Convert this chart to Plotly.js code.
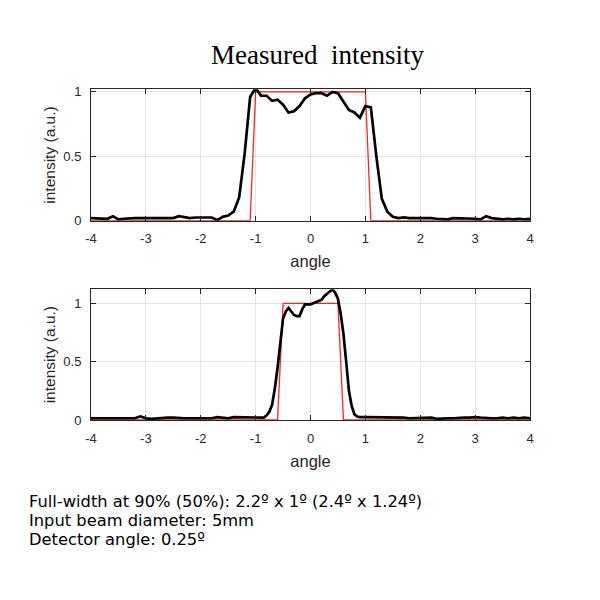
<!DOCTYPE html>
<html>
<head>
<meta charset="utf-8">
<script src="https://cdn.plot.ly/plotly-3.0.1.min.js"></script>
<style>html,body{margin:0;padding:0;background:#fff;}#chart{width:600px;height:600px;}</style>
</head>
<body>
<div id="chart"></div>
<script>
// ---- Data ----
const topAngle = [-4.0,-3.9,-3.8,-3.7,-3.6,-3.5,-3.4,-3.3,-3.2,-3.1,-3.0,-2.9,-2.8,-2.7,-2.6,-2.5,-2.4,-2.3,-2.2,-2.1,-2.0,-1.9,-1.8,-1.7,-1.6,-1.5,-1.4,-1.3,-1.2,-1.1,-1.0,-0.9,-0.8,-0.7,-0.6,-0.5,-0.4,-0.3,-0.2,-0.1,0.0,0.1,0.2,0.3,0.4,0.5,0.6,0.7,0.8,0.9,1.0,1.1,1.2,1.3,1.4,1.5,1.6,1.7,1.8,1.9,2.0,2.1,2.2,2.3,2.4,2.5,2.6,2.7,2.8,2.9,3.0,3.1,3.2,3.3,3.4,3.5,3.6,3.7,3.8,3.9,4.0];
const topMeasured = [0.02,0.02,0.015,0.015,0.035,0.01,0.015,0.02,0.02,0.02,0.02,0.015,0.02,0.02,0.02,0.02,0.035,0.025,0.02,0.025,0.025,0.025,0.025,0.005,0.03,0.04,0.07,0.18,0.52,0.96,1.03,0.97,0.97,0.93,0.94,0.90,0.84,0.85,0.89,0.95,0.98,0.99,0.99,0.97,1.0,0.99,0.92,0.86,0.84,0.80,0.89,0.88,0.50,0.17,0.07,0.03,0.02,0.025,0.02,0.02,0.025,0.02,0.02,0.015,0.015,0.01,0.02,0.02,0.02,0.015,0.015,0.01,0.035,0.02,0.015,0.01,0.015,0.01,0.015,0.01,0.015];
const topIdealAngle = [-4,-1.1,-1.0,1.0,1.1,4];
const topIdeal = [0,0,1,1,0,0];

const botAngle = [-4.0,-3.9,-3.8,-3.7,-3.6,-3.5,-3.4,-3.3,-3.2,-3.1,-3.0,-2.9,-2.8,-2.7,-2.6,-2.5,-2.4,-2.3,-2.2,-2.1,-2.0,-1.9,-1.8,-1.7,-1.6,-1.5,-1.4,-1.3,-1.2,-1.1,-1.0,-0.9,-0.85,-0.8,-0.75,-0.7,-0.65,-0.6,-0.55,-0.5,-0.45,-0.4,-0.35,-0.3,-0.25,-0.2,-0.15,-0.1,-0.05,0.0,0.05,0.1,0.15,0.2,0.25,0.3,0.35,0.4,0.45,0.5,0.55,0.6,0.65,0.7,0.75,0.8,0.85,0.9,1.0,1.1,1.2,1.3,1.4,1.5,1.6,1.7,1.8,1.9,2.0,2.1,2.2,2.3,2.4,2.5,2.6,2.7,2.8,2.9,3.0,3.1,3.2,3.3,3.4,3.5,3.6,3.7,3.8,3.9,4.0];
const botMeasured = [0.015,0.015,0.01,0.015,0.015,0.015,0.01,0.015,0.015,0.03,0.015,0.01,0.015,0.02,0.02,0.02,0.015,0.015,0.015,0.015,0.015,0.02,0.015,0.025,0.02,0.015,0.025,0.025,0.025,0.02,0.025,0.02,0.02,0.04,0.07,0.13,0.27,0.45,0.68,0.87,0.93,0.96,0.93,0.90,0.89,0.89,0.95,0.99,0.99,0.99,1.0,1.01,1.02,1.03,1.06,1.08,1.10,1.12,1.09,1.04,0.91,0.74,0.50,0.25,0.12,0.05,0.03,0.025,0.025,0.025,0.025,0.025,0.025,0.025,0.02,0.02,0.015,0.015,0.015,0.015,0.02,0.01,0.015,0.015,0.015,0.02,0.02,0.02,0.025,0.02,0.015,0.015,0.015,0.02,0.015,0.02,0.015,0.02,0.015];
const botIdealAngle = [-4,-0.6,-0.5,0.5,0.6,4];
const botIdeal = [0,0,1,1,0,0];

const xTicks = [-4,-3,-2,-1,0,1,2,3,4];
const xTickText = ['-4','-3','-2','-1','0','1','2','3','4'];
const yTicks = [0,0.5,1];
const yTickText = ['0','0.5','1'];
const titleText = 'Measured  intensity';
const noteLines = ['Full-width at 90% (50%): 2.2º x 1º (2.4º x 1.24º)', 'Input beam diameter: 5mm', 'Detector angle: 0.25º'];

// ---- Traces ----
const red = '#ff2020';
const traces = [
  {x: topIdealAngle, y: topIdeal, xaxis:'x', yaxis:'y', mode:'lines', line:{color:red, width:1.3}, hoverinfo:'skip'},
  {x: topAngle, y: topMeasured, xaxis:'x', yaxis:'y', mode:'lines', line:{color:'#000', width:2.7}},
  {x: botIdealAngle, y: botIdeal, xaxis:'x2', yaxis:'y2', mode:'lines', line:{color:red, width:1.3}, hoverinfo:'skip'},
  {x: botAngle, y: botMeasured, xaxis:'x2', yaxis:'y2', mode:'lines', line:{color:'#000', width:2.7}}
];

const sans = 'Liberation Sans, Arial, sans-serif';
const axFont = {family:sans, size:13, color:'#262626'};
function xax(anchor){
  return {anchor:anchor, range:[-4,4], tickvals:xTicks, ticktext:xTickText, ticks:'inside', ticklen:5, tickcolor:'#262626',
    showline:true, mirror:'ticks', linecolor:'#262626', linewidth:1, showgrid:true, gridcolor:'#e3e3e3', gridwidth:1,
    zeroline:false, tickfont:axFont, ticklabelstandoff:6,
    title:{text:'angle', font:{family:sans, size:16.5, color:'#262626'}, standoff:10}};
}
function yax(anchor, domain, top){
  return {anchor:anchor, domain:domain, range:[0,top], tickvals:yTicks, ticktext:yTickText, ticks:'inside', ticklen:5, tickcolor:'#262626',
    showline:true, mirror:'ticks', linecolor:'#262626', linewidth:1, showgrid:true, gridcolor:'#e3e3e3', gridwidth:1,
    zeroline:false, tickfont:axFont, ticklabelstandoff:6,
    title:{text:'intensity (a.u.)', font:{family:sans, size:15.5, color:'#262626'}, standoff:3}};
}

const noteY = [501.5, 520.5, 539.5];
const annotations = [
  {text:titleText, xref:'paper', yref:'paper', x:(317-91)/439, y:1-55/600, xanchor:'center', yanchor:'middle', showarrow:false,
   font:{family:'Liberation Serif, Times New Roman, serif', size:27, color:'#000'}}
];
noteLines.forEach((t, i) => annotations.push(
  {text:t, xref:'paper', yref:'paper', x:(27-91)/439, y:1-noteY[i]/600, xanchor:'left', yanchor:'middle', align:'left', showarrow:false,
   font:{family:'DejaVu Sans, Verdana, sans-serif', size:16.3, color:'#000'}}));

const layout = {
  width:600, height:600, showlegend:false,
  paper_bgcolor:'#fff', plot_bgcolor:'#fff',
  margin:{l:91, r:70, t:0, b:0},
  xaxis: xax('y'),
  yaxis: yax('x', [1-220.7/600, 1-89.3/600], 1.02),
  xaxis2: xax('y2'),
  yaxis2: yax('x2', [1-420/600, 1-289.3/600], 1.12),
  annotations: annotations
};

Plotly.newPlot('chart', traces, layout, {staticPlot:true, displayModeBar:false});
</script>
</body>
</html>
